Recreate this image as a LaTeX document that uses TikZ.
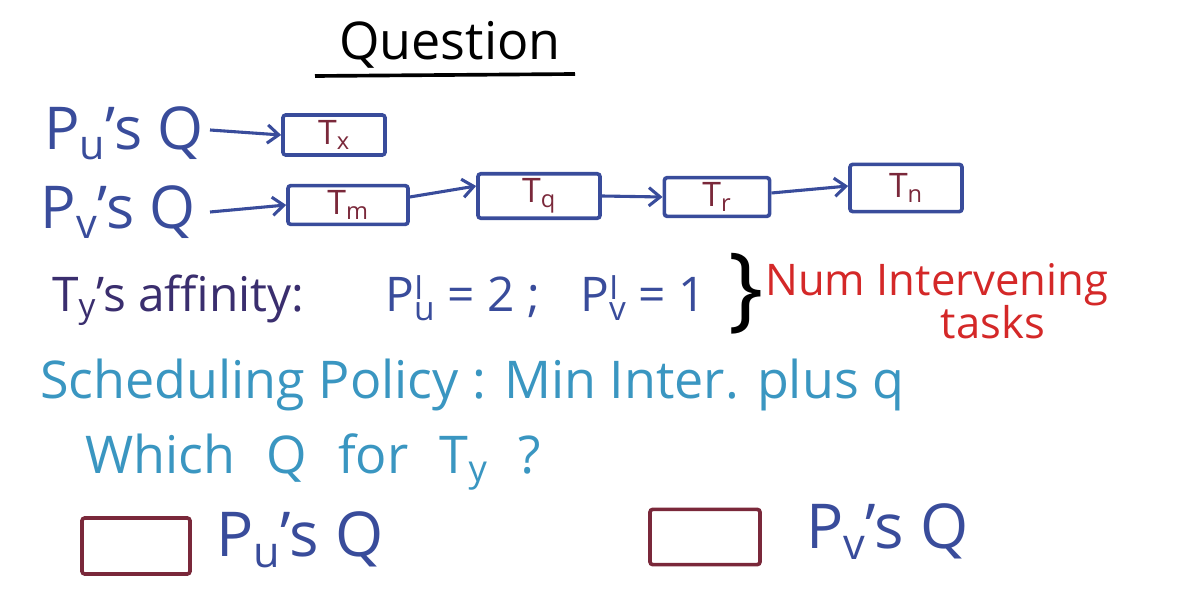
\documentclass[tikz,border=0pt]{standalone}
\usepackage{fontspec}
\setmainfont{Open Sans}
\usepackage{tikz}
\usetikzlibrary{calc,positioning,arrows.meta}
\definecolor{penblue}{RGB}{57,76,155}
\definecolor{penred}{RGB}{122,40,58}
\definecolor{penpurple}{RGB}{58,46,110}
\definecolor{pencyan}{RGB}{58,150,193}
\definecolor{penbright}{RGB}{212,40,40}

\tikzset{
  taskbox/.style={draw=penblue,line width=2.6pt,rounded corners=2pt,text=penred,font=\fontsize{24}{26}\selectfont},
  answerbox/.style={draw=penred,line width=2.6pt,rounded corners=2pt,minimum width=2.7cm,minimum height=1.4cm},
  link/.style={penblue,line width=2.2pt,-{Straight Barb[length=8pt,width=13pt]}},
  qlabel/.style={text=penblue,font=\fontsize{42}{46}\selectfont,inner sep=0pt}
}

\begin{document}
\begin{tikzpicture}[x=0.025cm,y=-0.025cm]
        \useasboundingbox (0,0) rectangle (1184,609);
        \node[font=\fontsize{37}{40}\selectfont,inner sep=0pt] (title) at (450,45) {Question};
        \draw[line width=2.6pt] (315,76) -- (575,74);

        \node[qlabel,anchor=east] (qu) at (204,133) {P\textsubscript{u}'s Q};
        \node[qlabel,anchor=east] (qv) at (196,212) {P\textsubscript{v}'s Q};
        \node[taskbox,minimum width=2.55cm,minimum height=1cm] (tx) at (334,135) {T\textsubscript{x}};
        \node[taskbox,minimum width=3cm,minimum height=0.85cm] (tm) at (348,205) {T\textsubscript{m}};
        \node[taskbox,minimum width=3.05cm,minimum height=0.98cm] (tq) at (539,196) {T\textsubscript{q}};
        \node[taskbox,minimum width=2.63cm,minimum height=0.88cm] (tr) at (717,197) {T\textsubscript{r}};
        \node[taskbox,minimum width=2.8cm,minimum height=1.18cm] (tn) at (906,188) {T\textsubscript{n}};
        \draw[link] (qu.east) ++(6,-3) -- (tx.west);
        \draw[link] (qv.east) ++(14,0) -- (tm.west);
        \draw[link] ([yshift=0.2cm]tm.east) -- ([yshift=0.25cm]tq.west);
        \draw[link] (tq.east) -- (tr.west);
        \draw[link] ([yshift=0.1cm]tr.east) -- ([yshift=0.05cm]tn.west);

        \node[text=penpurple,font=\fontsize{34}{38}\selectfont,anchor=west,inner sep=0pt] (aff) at (52,300) {T\textsubscript{y}'s affinity:};
        \node[text=penblue,font=\fontsize{34}{38}\selectfont,anchor=west,inner sep=0pt] (pu) at (385,298) {$\mathrm{P}^{\mathrm{I}}_{\mathrm{u}}$ = 2 ;};
        \node[text=penblue,font=\fontsize{34}{38}\selectfont,anchor=west,inner sep=0pt] (pv) at (580,298) {$\mathrm{P}^{\mathrm{I}}_{\mathrm{v}}$ = 1};
        \node[font=\fontsize{66}{70}\selectfont,inner sep=0pt] (brace) at (746,294) {\}};
        \node[text=penbright,font=\fontsize{31}{34}\selectfont,anchor=west,inner sep=0pt] (num) at (765,285) {Num Intervening};
        \node[text=penbright,font=\fontsize{31}{34}\selectfont,inner sep=0pt] (tasks) at (993,322) {tasks};

        \node[text=pencyan,font=\fontsize{37}{40}\selectfont,anchor=west,inner sep=0pt] (policy) at (40,385) {Scheduling Policy : Min Inter. plus q};
        \node[text=pencyan,font=\fontsize{37}{40}\selectfont,anchor=west,inner sep=0pt] (which) at (85,462) {\spaceskip=0.6em Which Q for T\textsubscript{y} ?};

        \node[answerbox] (au) at (136,546) {};
        \node[qlabel,anchor=west,font=\fontsize{44}{48}\selectfont] (lu) at (216,540) {P\textsubscript{u}'s Q};
        \node[answerbox,minimum width=2.75cm,minimum height=1.38cm] (av) at (705,537) {};
        \node[qlabel,anchor=west,font=\fontsize{44}{48}\selectfont] (lv) at (806,532) {P\textsubscript{v}'s Q};
      \end{tikzpicture}
\end{document}
